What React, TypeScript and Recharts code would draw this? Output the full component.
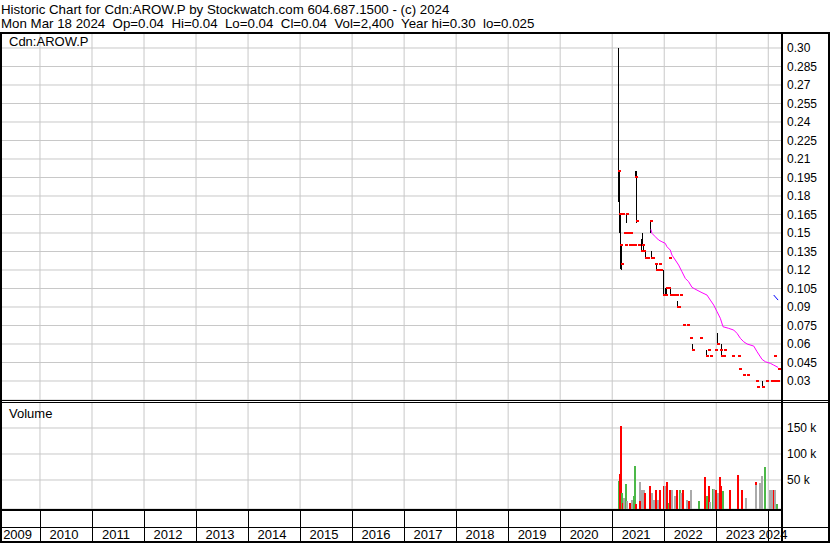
import React from 'react';
import { ComposedChart, Bar, Line, Scatter, XAxis, YAxis, CartesianGrid } from 'recharts';

const FONT = 'Arial, "Liberation Sans", sans-serif';
const GRID = '#c8c8c8';

// time axis in decimal years
const X_MIN = 2009.27;
const X_MAX = 2024.264;
const yearTicks = [2010, 2011, 2012, 2013, 2014, 2015, 2016, 2017, 2018, 2019, 2020, 2021, 2022, 2023, 2024];
const yearLabels = ['2009', '2010', '2011', '2012', '2013', '2014', '2015', '2016', '2017', '2018', '2019', '2020', '2021', '2022', '2023', '2024'];
const yearLabelPos = [2009.57, 2010.46, 2011.46, 2012.46, 2013.46, 2014.46, 2015.46, 2016.46, 2017.46, 2018.46, 2019.46, 2020.46, 2021.46, 2022.46, 2023.46, 2024.09];

const P_MIN = 0.01459;
const P_MAX = 0.31216;
const priceTicks = [0.03, 0.045, 0.06, 0.075, 0.09, 0.105, 0.12, 0.135, 0.15, 0.165, 0.18, 0.195, 0.21, 0.225, 0.24, 0.255, 0.27, 0.285, 0.3];
const priceTickLabels = ['0.03', '0.045', '0.06', '0.075', '0.09', '0.105', '0.12', '0.135', '0.15', '0.165', '0.18', '0.195', '0.21', '0.225', '0.24', '0.255', '0.27', '0.285', '0.30'];

const V_MIN = -5770;
const V_MAX = 200000;
const volTicks = [50000, 100000, 150000];
const volTickLabels = ['50 k', '100 k', '150 k'];

// daily high / low / close
const barTimes = [2021.122, 2021.141, 2021.16, 2021.18, 2021.2, 2021.24, 2021.26, 2021.282, 2021.3, 2021.33, 2021.36, 2021.39, 2021.42, 2021.445, 2021.462, 2021.5, 2021.56, 2021.59, 2021.61, 2021.64, 2021.67, 2021.74, 2021.75, 2021.775, 2021.83, 2021.85, 2021.88, 2021.9, 2021.93, 2021.99, 2022.02, 2022.05, 2022.08, 2022.11, 2022.13, 2022.17, 2022.232, 2022.255, 2022.275, 2022.309, 2022.361, 2022.45, 2022.501, 2022.546, 2022.694, 2022.809, 2022.854, 2022.886, 2022.982, 2023.027, 2023.079, 2023.092, 2023.143, 2023.156, 2023.305, 2023.432, 2023.445, 2023.52, 2023.6, 2023.78, 2023.8, 2023.882, 2023.894, 2023.965, 2024.055, 2024.09, 2024.112, 2024.13, 2024.17, 2024.19];
const barHighs = [0.3, 0.2, 0.165, 0.14, 0.165, 0.15, 0.14, 0.165, 0.15, 0.14, 0.15, 0.14, 0.14, 0.2, 0.2, 0.14, 0.145, 0.15, 0.14, 0.135, 0.13, 0.16, 0.135, 0.13, 0.125, 0.125, 0.12, 0.125, 0.12, 0.12, 0.105, 0.105, 0.105, 0.13, 0.105, 0.1, 0.1, 0.095, 0.09, 0.1, 0.075, 0.075, 0.065, 0.06, 0.065, 0.055, 0.055, 0.05, 0.055, 0.069, 0.055, 0.06, 0.05, 0.055, 0.05, 0.05, 0.04, 0.035, 0.035, 0.03, 0.025, 0.03, 0.025, 0.03, 0.03, 0.03, 0.05, 0.03, 0.03, 0.04];
const barLows = [0.175, 0.15, 0.12, 0.12, 0.165, 0.15, 0.14, 0.158, 0.15, 0.14, 0.15, 0.14, 0.14, 0.195, 0.158, 0.14, 0.135, 0.14, 0.135, 0.13, 0.13, 0.15, 0.13, 0.13, 0.125, 0.12, 0.12, 0.125, 0.12, 0.1, 0.1, 0.1, 0.105, 0.13, 0.1, 0.1, 0.1, 0.09, 0.09, 0.1, 0.075, 0.075, 0.065, 0.055, 0.065, 0.05, 0.055, 0.05, 0.055, 0.06, 0.055, 0.05, 0.05, 0.055, 0.05, 0.05, 0.04, 0.035, 0.035, 0.03, 0.025, 0.025, 0.025, 0.03, 0.03, 0.03, 0.05, 0.03, 0.03, 0.04];
const barCloses = [0.2, 0.165, 0.14, 0.125, 0.165, 0.15, 0.14, 0.165, 0.15, 0.14, 0.15, 0.14, 0.14, 0.195, 0.16, 0.14, 0.135, 0.14, 0.135, 0.13, 0.13, 0.16, 0.13, 0.13, 0.125, 0.12, 0.12, 0.125, 0.12, 0.1, 0.1, 0.105, 0.105, 0.13, 0.1, 0.1, 0.1, 0.09, 0.09, 0.1, 0.075, 0.075, 0.065, 0.055, 0.065, 0.05, 0.055, 0.05, 0.055, 0.06, 0.055, 0.05, 0.05, 0.055, 0.05, 0.05, 0.04, 0.035, 0.035, 0.03, 0.025, 0.025, 0.025, 0.03, 0.03, 0.03, 0.05, 0.03, 0.03, 0.04];

// moving average
const maTimes = [2021.744, 2021.764, 2021.828, 2021.892, 2021.956, 2022.02, 2022.052, 2022.116, 2022.149, 2022.213, 2022.277, 2022.341, 2022.405, 2022.469, 2022.534, 2022.63, 2022.726, 2022.822, 2022.886, 2022.951, 2023.015, 2023.079, 2023.13, 2023.239, 2023.336, 2023.4, 2023.464, 2023.528, 2023.593, 2023.721, 2023.785, 2023.881, 2023.945, 2024.041, 2024.105, 2024.189];
const maValues = [0.1529, 0.1497, 0.147, 0.1443, 0.1429, 0.1416, 0.1389, 0.1362, 0.1321, 0.1281, 0.124, 0.1186, 0.1132, 0.1105, 0.1059, 0.1037, 0.1016, 0.0997, 0.0956, 0.0916, 0.0862, 0.0808, 0.074, 0.0727, 0.0713, 0.0686, 0.0646, 0.0618, 0.06, 0.0583, 0.0537, 0.0475, 0.0456, 0.0443, 0.0429, 0.041];

// small blue marker near the right edge
const markTimes = [2024.105, 2024.189];
const markValues = [0.0997, 0.0956];

// volume: u = up, d = down, n = unchanged
const volTimes = [2021.122, 2021.141, 2021.167, 2021.186, 2021.205, 2021.231, 2021.269, 2021.282, 2021.346, 2021.379, 2021.411, 2021.443, 2021.462, 2021.526, 2021.539, 2021.571, 2021.603, 2021.635, 2021.719, 2021.764, 2021.796, 2021.841, 2021.873, 2021.924, 2021.988, 2022.02, 2022.052, 2022.084, 2022.116, 2022.148, 2022.212, 2022.245, 2022.296, 2022.322, 2022.36, 2022.437, 2022.476, 2022.514, 2022.668, 2022.79, 2022.822, 2022.86, 2022.886, 2022.937, 2022.963, 2023.002, 2023.034, 2023.066, 2023.098, 2023.13, 2023.271, 2023.419, 2023.496, 2023.579, 2023.759, 2023.771, 2023.848, 2023.881, 2023.945, 2024.041, 2024.073, 2024.105, 2024.137, 2024.169];
const volValues = [49000, 61000, 154000, 25000, 5000, 16000, 42000, 10000, 6000, 11000, 19000, 76000, 3000, 47000, 10000, 30000, 30000, 25000, 38000, 25000, 12000, 30000, 12000, 30000, 38000, 38000, 47000, 6000, 30000, 30000, 20000, 30000, 30000, 25000, 30000, 11000, 9000, 30000, 10000, 56000, 20000, 38000, 7000, 33000, 33000, 30000, 25000, 56000, 38000, 28000, 30000, 59000, 30000, 16000, 47000, 41000, 44000, 57000, 75000, 30000, 30000, 30000, 30000, 3000];
const volDirs = ['u', 'd', 'd', 'u', 'd', 'n', 'u', 'n', 'd', 'n', 'u', 'u', 'd', 'n', 'd', 'n', 'n', 'd', 'd', 'n', 'n', 'd', 'n', 'd', 'd', 'n', 'd', 'u', 'd', 'n', 'n', 'd', 'u', 'n', 'd', 'n', 'd', 'n', 'u', 'd', 'u', 'd', 'n', 'u', 'n', 'd', 'n', 'd', 'd', 'u', 'd', 'd', 'd', 'n', 'd', 'n', 'n', 'n', 'u', 'n', 'n', 'd', 'n', 'u'];

const VOL_COLORS: Record<string, string> = { u: '#4cb848', d: '#ff0000', n: '#aaaaaa' };

const priceData = barTimes.map((t, i) => ({ t, range: [barLows[i], barHighs[i]], close: barCloses[i] }));
const maData = maTimes.map((t, i) => ({ t, ma: maValues[i] }));
const markData = markTimes.map((t, i) => ({ t, mark: markValues[i] }));
const volData = volTimes.map((t, i) => ({ t, v: volValues[i], dir: volDirs[i] }));
// bottom axis carries both the year separators and the year labels
const stripTicks = [...yearTicks, ...yearLabelPos].sort((a, b) => a - b);

const scaleOf = (axis: any, v: number) => {
    const s = axis && axis.scale;
    if (!s) return 0;
    return typeof s === 'function' ? s(v) : s.map(v);
};
const yearGrid = ({ xAxis }: any) => yearTicks.map((t) => scaleOf(xAxis, t));

const RightTick = (props: any) => {
    const { x, y, payload, ticks, labels } = props;
    const i = ticks.indexOf(payload.value);
    return (
        <text x={x} y={y} dy="0.36em" textAnchor="start" fontSize={12} fontFamily={FONT} fill="#000">
            {labels[i]}
        </text>
    );
};

const YearTick = (props: any) => {
    const { x, y, payload } = props;
    if (yearTicks.includes(payload.value)) {
        const lx = Math.round(x) + 0.5;
        return <line x1={lx} x2={lx} y1={y} y2={y + 34} stroke="#000" strokeWidth={1} />;
    }
    const i = yearLabelPos.indexOf(payload.value);
    return (
        <text x={x} y={y + 30} textAnchor="middle" fontSize={13} fontFamily={FONT} fill="#000">
            {yearLabels[i]}
        </text>
    );
};

const renderRange = (props: any) => {
    const { x, y, width, height } = props;
    if (!height || height < 0.5) return <g />;
    const cx = Math.round(x + width / 2 - 0.5);
    return <rect x={cx} y={Math.round(y)} width={1} height={Math.max(1, Math.round(height))} fill="#000" />;
};

const renderClose = (props: any) => {
    const { cx, cy } = props;
    return <rect x={Math.round(cx - 0.5)} y={Math.round(cy) - 1} width={3} height={2} fill="#ff0000" />;
};

const renderVol = (props: any) => {
    const { x, y, width, height, payload } = props;
    const cx = Math.round(x + width / 2 - 1);
    return <rect x={cx} y={Math.round(y)} width={2} height={Math.round(height) + 3} fill={VOL_COLORS[payload.dir]} />;
};

const line = (s: React.CSSProperties) => <div style={{ position: 'absolute', background: '#000', ...s }} />;

const headerStyle: React.CSSProperties = { position: 'absolute', left: 1, fontSize: 13.3, lineHeight: '15px', whiteSpace: 'pre' };

export default function App() {
    return (
        <div style={{ position: 'absolute', left: 0, top: 0, width: 830, height: 543, background: '#fff', overflow: 'hidden', fontFamily: FONT, color: '#000' }}>
            <div style={{ ...headerStyle, top: 1.5 }}>
                Historic Chart for Cdn:AROW.P by Stockwatch.com 604.687.1500 - (c) 2024
            </div>
            <div style={{ ...headerStyle, top: 16 }}>
                {'Mon Mar 18 2024  Op=0.04  Hi=0.04  Lo=0.04  Cl=0.04  Vol=2,400  Year hi=0.30  lo=0.025'}
            </div>

            {/* price panel */}
            <div style={{ position: 'absolute', left: 0, top: 33, width: 830, height: 367 }}>
                <ComposedChart width={830} height={367} data={priceData} margin={{ top: 0, right: 0, bottom: 0, left: 2 }}>
                    <CartesianGrid stroke={GRID} verticalCoordinatesGenerator={yearGrid} />
                    <XAxis dataKey="t" type="number" domain={[X_MIN, X_MAX]} ticks={yearTicks} hide allowDataOverflow />
                    <YAxis
                        orientation="right"
                        type="number"
                        domain={[P_MIN, P_MAX]}
                        ticks={priceTicks}
                        interval={0}
                        width={48}
                        axisLine={false}
                        tickLine={false}
                        tickSize={0}
                        tickMargin={5}
                        allowDataOverflow
                        tick={<RightTick ticks={priceTicks} labels={priceTickLabels} />}
                    />
                    <Bar dataKey="range" barSize={1} shape={renderRange} isAnimationActive={false} />
                    <Scatter dataKey="close" shape={renderClose} isAnimationActive={false} />
                    <Line data={maData} dataKey="ma" type="linear" stroke="#ff00ff" strokeWidth={1} dot={false} isAnimationActive={false} />
                    <Line data={markData} dataKey="mark" type="linear" stroke="#0000ff" strokeWidth={1} dot={false} isAnimationActive={false} />
                </ComposedChart>
            </div>

            {/* volume panel with the year strip below it */}
            <div style={{ position: 'absolute', left: 0, top: 402, width: 830, height: 141 }}>
                <ComposedChart width={830} height={141} data={volData} margin={{ top: 0, right: 0, bottom: 0, left: 2 }}>
                    <CartesianGrid stroke={GRID} verticalCoordinatesGenerator={yearGrid} />
                    <XAxis
                        dataKey="t"
                        type="number"
                        domain={[X_MIN, X_MAX]}
                        ticks={stripTicks}
                        interval={0}
                        height={34}
                        axisLine={false}
                        tickLine={false}
                        tickSize={0}
                        tickMargin={0}
                        allowDataOverflow
                        tick={<YearTick />}
                    />
                    <YAxis
                        orientation="right"
                        type="number"
                        domain={[V_MIN, V_MAX]}
                        ticks={volTicks}
                        interval={0}
                        width={48}
                        axisLine={false}
                        tickLine={false}
                        tickSize={0}
                        tickMargin={5}
                        allowDataOverflow
                        tick={<RightTick ticks={volTicks} labels={volTickLabels} />}
                    />
                    <Bar dataKey="v" barSize={2} shape={renderVol} isAnimationActive={false} />
                </ComposedChart>
            </div>

            <div style={{ position: 'absolute', left: 9, top: 34, fontSize: 13, lineHeight: '15px' }}>Cdn:AROW.P</div>
            <div style={{ position: 'absolute', left: 9, top: 405.5, fontSize: 13, lineHeight: '15px' }}>Volume</div>

            {/* frame */}
            {line({ left: 0, top: 32, width: 830, height: 2 })}
            {line({ left: 0, top: 32, width: 2, height: 511 })}
            {line({ left: 781, top: 32, width: 2, height: 511 })}
            {line({ left: 828, top: 32, width: 2, height: 511 })}
            {line({ left: 0, top: 400, width: 830, height: 1 })}
            {line({ left: 0, top: 402, width: 830, height: 1 })}
            {line({ left: 0, top: 509, width: 783, height: 2 })}
            {line({ left: 0, top: 527, width: 830, height: 1 })}
            {line({ left: 0, top: 541, width: 830, height: 2 })}
        </div>
    );
}
